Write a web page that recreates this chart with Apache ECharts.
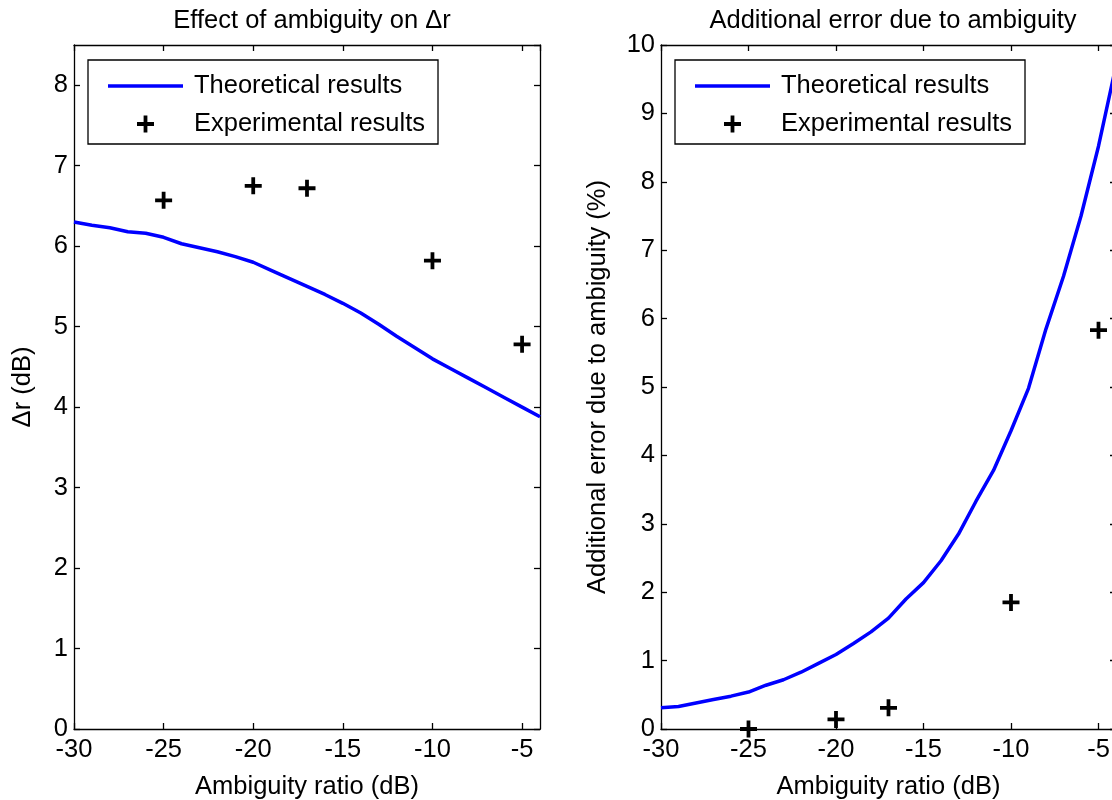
<!DOCTYPE html>
<html>
<head>
<meta charset="utf-8">
<script src="https://cdn.jsdelivr.net/npm/echarts@6/dist/echarts.min.js"></script>
<style>
  html, body { margin: 0; padding: 0; background: #fff; }
  #chart { width: 1112px; height: 800px; }
</style>
</head>
<body>
<div id="chart"></div>
<script>
// Ambiguity ratio (dB) for the theoretical curves
const ratioTheory = [-30, -29, -28, -27, -26, -25, -24, -23, -22, -21, -20, -19, -18, -17, -16,
                     -15, -14, -13, -12, -11, -10, -9, -8, -7, -6, -5, -4];
// Δr (dB), theoretical
const deltaTheory = [6.30, 6.26, 6.23, 6.18, 6.16, 6.11, 6.03, 5.98, 5.93, 5.87, 5.80, 5.70, 5.60, 5.50, 5.40,
                     5.29, 5.17, 5.03, 4.88, 4.74, 4.60, 4.48, 4.36, 4.24, 4.12, 4.00, 3.88];
// Additional error (%), theoretical
const errorTheory = [0.31, 0.33, 0.38, 0.43, 0.48, 0.54, 0.64, 0.72, 0.83, 0.96, 1.09, 1.25, 1.42, 1.62, 1.90,
                     2.14, 2.46, 2.85, 3.33, 3.78, 4.36, 4.98, 5.85, 6.62, 7.50, 8.52, 9.70];
// Measured points
const ratioExp = [-25, -20, -17, -10, -5];
const deltaExp = [6.57, 6.75, 6.72, 5.82, 4.78];
const errorExp = [0.00, 0.14, 0.31, 1.85, 5.83];

const xTicks = { min: -30, max: -4, interval: 5 };
const deltaTicks = { min: 0, max: 8.5, interval: 1 };
const errorTicks = { min: 0, max: 10, interval: 1 };

const seriesNames = ['Theoretical results', 'Experimental results'];
const titles = ['Effect of ambiguity on Δr', 'Additional error due to ambiguity'];
const xName = 'Ambiguity ratio (dB)';
const yNames = ['Δr (dB)', 'Additional error due to ambiguity (%)'];

const FONT = '"Liberation Sans", Arial, Helvetica, sans-serif';
const FS = 25.5;
const PLUS = 'path://M7,0H11V7H18V11H11V18H7V11H0V7H7Z';
const LINE_ICON = 'path://M0,0H75V3.5H0Z';

const zip = (xs, ys) => xs.map((x, i) => [x, ys[i]]);

// Fixed plot frames; the right frame runs slightly past the canvas edge
const grids = [
  { left: 74, top: 45, width: 466, height: 684, containLabel: false, outerBoundsMode: 'none' },
  { left: 661, top: 45, width: 455, height: 684, containLabel: false, outerBoundsMode: 'none' }
];

function xAxes(gi) {
  const base = {
    type: 'value', gridIndex: gi, min: xTicks.min, max: xTicks.max, interval: xTicks.interval,
    splitLine: { show: false },
    axisLine: { show: true, onZero: false, lineStyle: { color: '#000', width: 1.3 } },
    axisTick: { show: true, inside: true, length: 6, lineStyle: { color: '#000', width: 1.3 } }
  };
  return [
    Object.assign({}, base, {
      position: 'bottom',
      name: xName, nameLocation: 'middle', nameGap: 45,
      nameTextStyle: { fontFamily: FONT, fontSize: FS, color: '#000' },
      axisLabel: { show: true, showMaxLabel: false, margin: 8, fontFamily: FONT, fontSize: FS, color: '#000' }
    }),
    Object.assign({}, base, { position: 'top', axisLabel: { show: false } })
  ];
}

function yAxes(gi, t, name, gap, hideMax) {
  const base = {
    type: 'value', gridIndex: gi, min: t.min, max: t.max, interval: t.interval,
    splitLine: { show: false },
    axisLine: { show: true, onZero: false, lineStyle: { color: '#000', width: 1.3 } },
    axisTick: { show: true, inside: true, length: 6, lineStyle: { color: '#000', width: 1.3 } }
  };
  return [
    Object.assign({}, base, {
      position: 'left',
      name: name, nameLocation: 'middle', nameGap: gap,
      nameTextStyle: { fontFamily: FONT, fontSize: FS, color: '#000' },
      axisLabel: { show: true, showMaxLabel: !hideMax, margin: 6, fontFamily: FONT, fontSize: FS, color: '#000' }
    }),
    Object.assign({}, base, { position: 'right', axisLabel: { show: false } })
  ];
}

function legendAt(left) {
  return {
    left: left, top: 60, orient: 'vertical',
    selectedMode: false,
    backgroundColor: '#fff',
    borderColor: '#000', borderWidth: 1.3, borderRadius: 0,
    padding: [13, 13, 7, 20],
    itemWidth: 75, itemHeight: 17, itemGap: 12,
    symbolKeepAspect: true,
    textStyle: { fontFamily: FONT, fontSize: FS, color: '#000', padding: [0, 0, 0, 6] },
    data: [
      { name: seriesNames[0], icon: LINE_ICON, itemStyle: { color: '#0000ff' } },
      { name: seriesNames[1], icon: PLUS, itemStyle: { color: '#000', opacity: 1 } }
    ]
  };
}

function panelSeries(gi, theory, exp) {
  const ax = gi * 2;
  return [
    {
      name: seriesNames[0], type: 'line', xAxisIndex: ax, yAxisIndex: ax,
      data: zip(ratioTheory, theory), symbol: 'none', showSymbol: false, smooth: false,
      lineStyle: { color: '#0000ff', width: 3.5 }, itemStyle: { color: '#0000ff' },
      clip: true, z: 3
    },
    {
      name: seriesNames[1], type: 'scatter', xAxisIndex: ax, yAxisIndex: ax,
      data: zip(ratioExp, exp), symbol: PLUS, symbolSize: 17,
      itemStyle: { color: '#000', opacity: 1 }, clip: false, z: 4
    }
  ];
}

const chart = echarts.init(document.getElementById('chart'), null, { renderer: 'canvas' });
chart.setOption({
  animation: false,
  backgroundColor: '#fff',
  title: [
    { text: titles[0], left: 307, top: 3, textAlign: 'center',
      textStyle: { fontFamily: FONT, fontSize: FS, fontWeight: 'normal', color: '#000' } },
    { text: titles[1], left: 888, top: 3, textAlign: 'center',
      textStyle: { fontFamily: FONT, fontSize: FS, fontWeight: 'normal', color: '#000' } }
  ],
  legend: [legendAt(88), legendAt(675)],
  grid: grids,
  xAxis: [].concat(xAxes(0), xAxes(1)),
  yAxis: [].concat(yAxes(0, deltaTicks, yNames[0], 38, true), yAxes(1, errorTicks, yNames[1], 50, false)),
  series: [].concat(panelSeries(0, deltaTheory, deltaExp), panelSeries(1, errorTheory, errorExp))
});
</script>
</body>
</html>
